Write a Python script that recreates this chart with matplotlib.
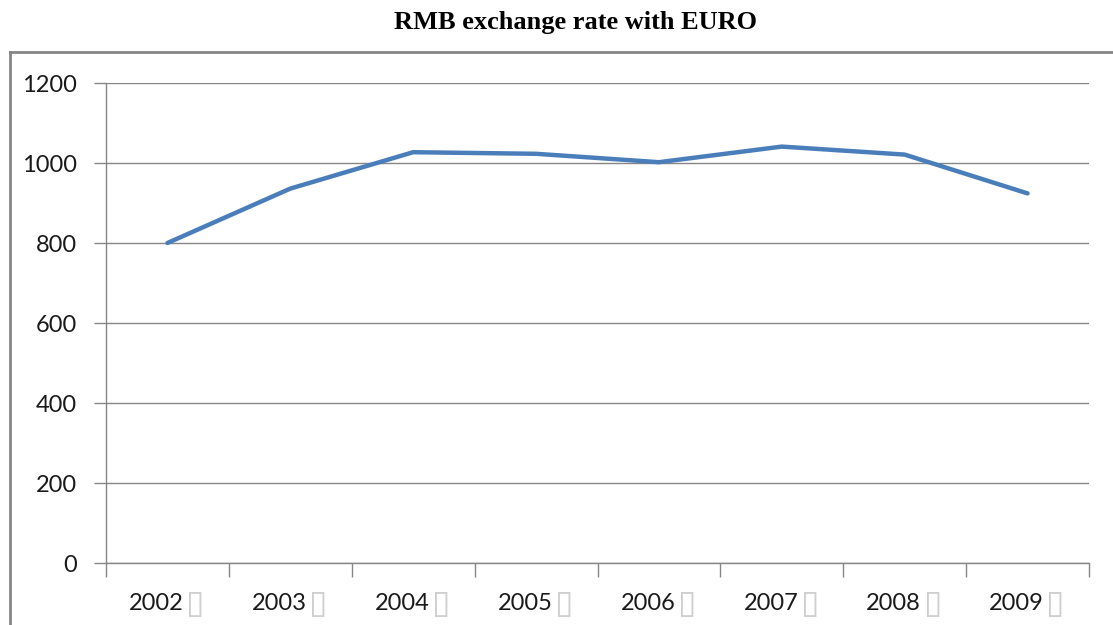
import matplotlib
import matplotlib.pyplot as plt
from matplotlib.lines import Line2D
from matplotlib.transforms import blended_transform_factory, offset_copy

matplotlib.use("Agg")

years = ["2002", "2003", "2004", "2005", "2006", "2007", "2008", "2009"]
rates = [800, 936, 1027, 1023, 1002, 1041, 1021, 924]
y_ticks = [0, 200, 400, 600, 800, 1000, 1200]

GRID = "#868686"
LINE = "#4a7ebb"

fig = plt.figure(figsize=(11.13, 6.25), dpi=100)
ax = fig.add_axes([106 / 1113, 1 - 563 / 625, (1089 - 106) / 1113, (563 - 83) / 625])

x = list(range(len(years)))
ax.plot(x, rates, color=LINE, linewidth=3.2, solid_capstyle="round", solid_joinstyle="round", zorder=3)

ax.set_xlim(-0.5, len(years) - 0.5)
ax.set_ylim(0, 1200)
ax.set_yticks(y_ticks)
ax.set_yticklabels([str(v) for v in y_ticks], fontfamily="Lato", fontsize=17, color="#1a1a1a")
ax.yaxis.grid(True, color=GRID, linewidth=1.0)
ax.set_axisbelow(True)

# category boundaries carry the tick marks, labels sit in the middle
ax.set_xticks([i - 0.5 for i in range(len(years) + 1)])
ax.set_xticklabels([])
ax.tick_params(axis="x", length=10, width=1.0, color=GRID, direction="out")
ax.tick_params(axis="y", length=9, width=1.0, color=GRID, direction="out", pad=12)

for side in ["top", "right"]:
    ax.spines[side].set_visible(False)
for side in ["left", "bottom"]:
    ax.spines[side].set_color(GRID)
    ax.spines[side].set_linewidth(1.0)

trans = blended_transform_factory(ax.transData, ax.transAxes)
for i, year in enumerate(years):
    ax.text(i, -0.085, year, transform=offset_copy(trans, fig=fig, x=-11, y=0, units="dots"),
            ha="center", va="center", fontfamily="Lato", fontsize=17, color="#1a1a1a")
    ax.text(i, -0.085, "\u25af", transform=offset_copy(trans, fig=fig, x=28, y=0, units="dots"),
            ha="center", va="center", fontfamily="DejaVu Sans", fontsize=24, color="#cfcfcf")

fig.text(575 / 1113, 1 - 22 / 625, "RMB exchange rate with EURO", ha="center", va="center",
         fontfamily="Liberation Serif", fontweight="bold", fontsize=19, color="black")

# outer chart frame, cut off by the image edges on the right and bottom
fig.add_artist(Line2D([10 / 1113, 10 / 1113], [0, 1 - 52 / 625], transform=fig.transFigure, color=GRID, linewidth=2))
fig.add_artist(Line2D([10 / 1113, 1], [1 - 52 / 625, 1 - 52 / 625], transform=fig.transFigure, color=GRID, linewidth=2))

fig.savefig("out.png", dpi=100)
plt.close(fig)
